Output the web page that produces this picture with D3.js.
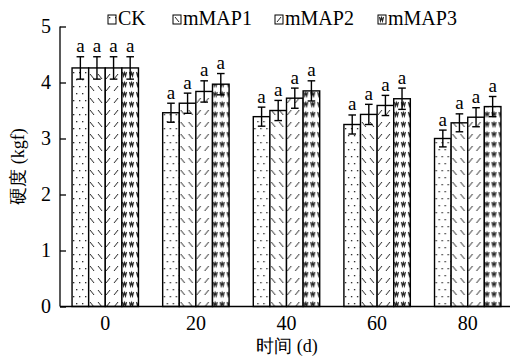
<!DOCTYPE html>
<html>
<head>
<meta charset="utf-8">
<script src="https://cdn.jsdelivr.net/npm/d3@7"></script>
</head>
<body style="margin:0">
<svg id="chart" width="510" height="358"></svg>
<script>
// data
const days = ['0', '20', '40', '60', '80'];
const series = ['CK', 'mMAP1', 'mMAP2', 'mMAP3'];
const ck = [4.26, 3.46, 3.39, 3.25, 3.00];
const mmap1 = [4.26, 3.63, 3.50, 3.43, 3.28];
const mmap2 = [4.26, 3.84, 3.72, 3.59, 3.38];
const mmap3 = [4.26, 3.97, 3.85, 3.71, 3.57];
const ckErr = [0.20, 0.17, 0.17, 0.17, 0.15];
const mmap1Err = [0.20, 0.18, 0.18, 0.18, 0.16];
const mmap2Err = [0.20, 0.19, 0.18, 0.18, 0.17];
const mmap3Err = [0.20, 0.19, 0.18, 0.19, 0.18];
const letters = ['a', 'a', 'a', 'a'];
const yTicks = [0, 1, 2, 3, 4, 5];

const values = [ck, mmap1, mmap2, mmap3];
const errs = [ckErr, mmap1Err, mmap2Err, mmap3Err];

const svg = d3.select('#chart');
const plotLeft = 60, plotTop = 26.5, plotBottom = 306.5;

const y = d3.scaleLinear().domain([0, 5]).range([plotBottom, plotTop]);
const x = d3.scaleBand().domain(days).range([60, 513]).paddingInner(0.267).paddingOuter(0.133);
const xs = d3.scaleBand().domain(series).range([0, x.bandwidth()]);

// fill patterns
const defs = svg.append('defs');
var p;
p = defs.append('pattern').attr('id', 'pat0').attr('patternUnits', 'userSpaceOnUse').attr('width', 6).attr('height', 14);
p.append('rect').attr('width', 6).attr('height', 14).attr('fill', 'white');
p.append('rect').attr('x', 1).attr('y', 2).attr('width', 1.3).attr('height', 1.3).attr('fill', '#222');
p.append('rect').attr('x', 4).attr('y', 9).attr('width', 1.3).attr('height', 1.3).attr('fill', '#222');

p = defs.append('pattern').attr('id', 'pat1').attr('patternUnits', 'userSpaceOnUse').attr('width', 8).attr('height', 12);
p.append('rect').attr('width', 8).attr('height', 12).attr('fill', 'white');
p.append('line').attr('x1', 2).attr('y1', 2).attr('x2', 6).attr('y2', 7).attr('stroke', '#222').attr('stroke-width', 1);

p = defs.append('pattern').attr('id', 'pat2').attr('patternUnits', 'userSpaceOnUse').attr('width', 8).attr('height', 12);
p.append('rect').attr('width', 8).attr('height', 12).attr('fill', 'white');
p.append('line').attr('x1', 2).attr('y1', 7).attr('x2', 6).attr('y2', 2).attr('stroke', '#222').attr('stroke-width', 1);

p = defs.append('pattern').attr('id', 'pat3').attr('patternUnits', 'userSpaceOnUse').attr('width', 7).attr('height', 10);
p.append('rect').attr('width', 7).attr('height', 10).attr('fill', 'white');
p.append('path').attr('d', 'M1.5,2 L2.5,6 L3.5,2.5 L4.5,6 L5.5,2').attr('fill', 'none').attr('stroke', '#222').attr('stroke-width', 1.1);

// bars
const groups = svg.selectAll('g.day').data(days).enter().append('g')
    .attr('class', 'day').attr('transform', d => 'translate(' + x(d) + ',0)');

series.forEach(function(s, si) {
    groups.append('rect')
        .attr('x', xs(s))
        .attr('y', (d, i) => y(values[si][i]))
        .attr('width', xs.bandwidth())
        .attr('height', (d, i) => plotBottom - y(values[si][i]))
        .attr('fill', 'url(#pat' + si + ')')
        .attr('stroke', 'black').attr('stroke-width', 1.4);
});

// error bars and letters
series.forEach(function(s, si) {
    const cx = xs(s) + xs.bandwidth() / 2;
    groups.append('line')
        .attr('x1', cx).attr('x2', cx)
        .attr('y1', (d, i) => y(values[si][i] + errs[si][i]))
        .attr('y2', (d, i) => y(values[si][i] - errs[si][i]))
        .attr('stroke', 'black').attr('stroke-width', 1.4);
    [1, -1].forEach(function(sign) {
        groups.append('line')
            .attr('x1', cx - 3.8).attr('x2', cx + 3.8)
            .attr('y1', (d, i) => y(values[si][i] + sign * errs[si][i]))
            .attr('y2', (d, i) => y(values[si][i] + sign * errs[si][i]))
            .attr('stroke', 'black').attr('stroke-width', 1.4);
    });
    groups.append('text')
        .attr('class', 'sig')
        .attr('x', cx)
        .attr('y', (d, i) => y(values[si][i] + errs[si][i]) - 4.5)
        .attr('text-anchor', 'middle')
        .text(letters[si]);
});

// axes
const yAxis = svg.append('g').attr('transform', 'translate(' + plotLeft + ',0)')
    .call(d3.axisRight(y).tickValues(yTicks).tickSize(6).tickFormat(d3.format('d')));
yAxis.select('.domain').attr('d', 'M0,' + plotTop + 'V' + plotBottom).attr('stroke-width', 1.3);
yAxis.selectAll('.tick line').attr('stroke-width', 1.3);
yAxis.selectAll('.tick text').attr('x', -9).attr('text-anchor', 'end');

const xAxis = svg.append('g').attr('transform', 'translate(0,' + plotBottom + ')')
    .call(d3.axisBottom(x).tickSize(0).tickPadding(9));
xAxis.select('.domain').attr('d', 'M' + plotLeft + ',0H510').attr('stroke-width', 1.3);

// axis titles
svg.append('text').attr('class', 'title').attr('x', 287).attr('y', 352).attr('text-anchor', 'middle')
    .text('时间 (d)');
svg.append('text').attr('class', 'title').attr('transform', 'translate(24,' + ((plotTop + plotBottom) / 2) + ') rotate(-90)')
    .attr('text-anchor', 'middle').text('硬度 (kgf)');

// legend
const legendX = [108, 173, 275, 378];
const legend = svg.selectAll('g.leg').data(series).enter().append('g')
    .attr('class', 'leg').attr('transform', (d, i) => 'translate(' + legendX[i] + ',15)');
legend.append('rect').attr('width', 8).attr('height', 9)
    .attr('fill', (d, i) => 'url(#pat' + i + ')').attr('stroke', 'black').attr('stroke-width', 1);
legend.append('text').attr('x', 10).attr('y', 10).text(d => d);

// serif face on every label
svg.selectAll('g').attr('font-family', null).attr('font-size', null);
svg.selectAll('text')
    .attr('font-family', 'Liberation Serif')
    .style('font-family', "'Liberation Serif'")
    .style('font-size', '20px')
    .attr('fill', 'black');
svg.selectAll('text.sig').style('font-size', '19px');
svg.selectAll('text.title').style('font-size', '18px');
</script>
</body>
</html>
